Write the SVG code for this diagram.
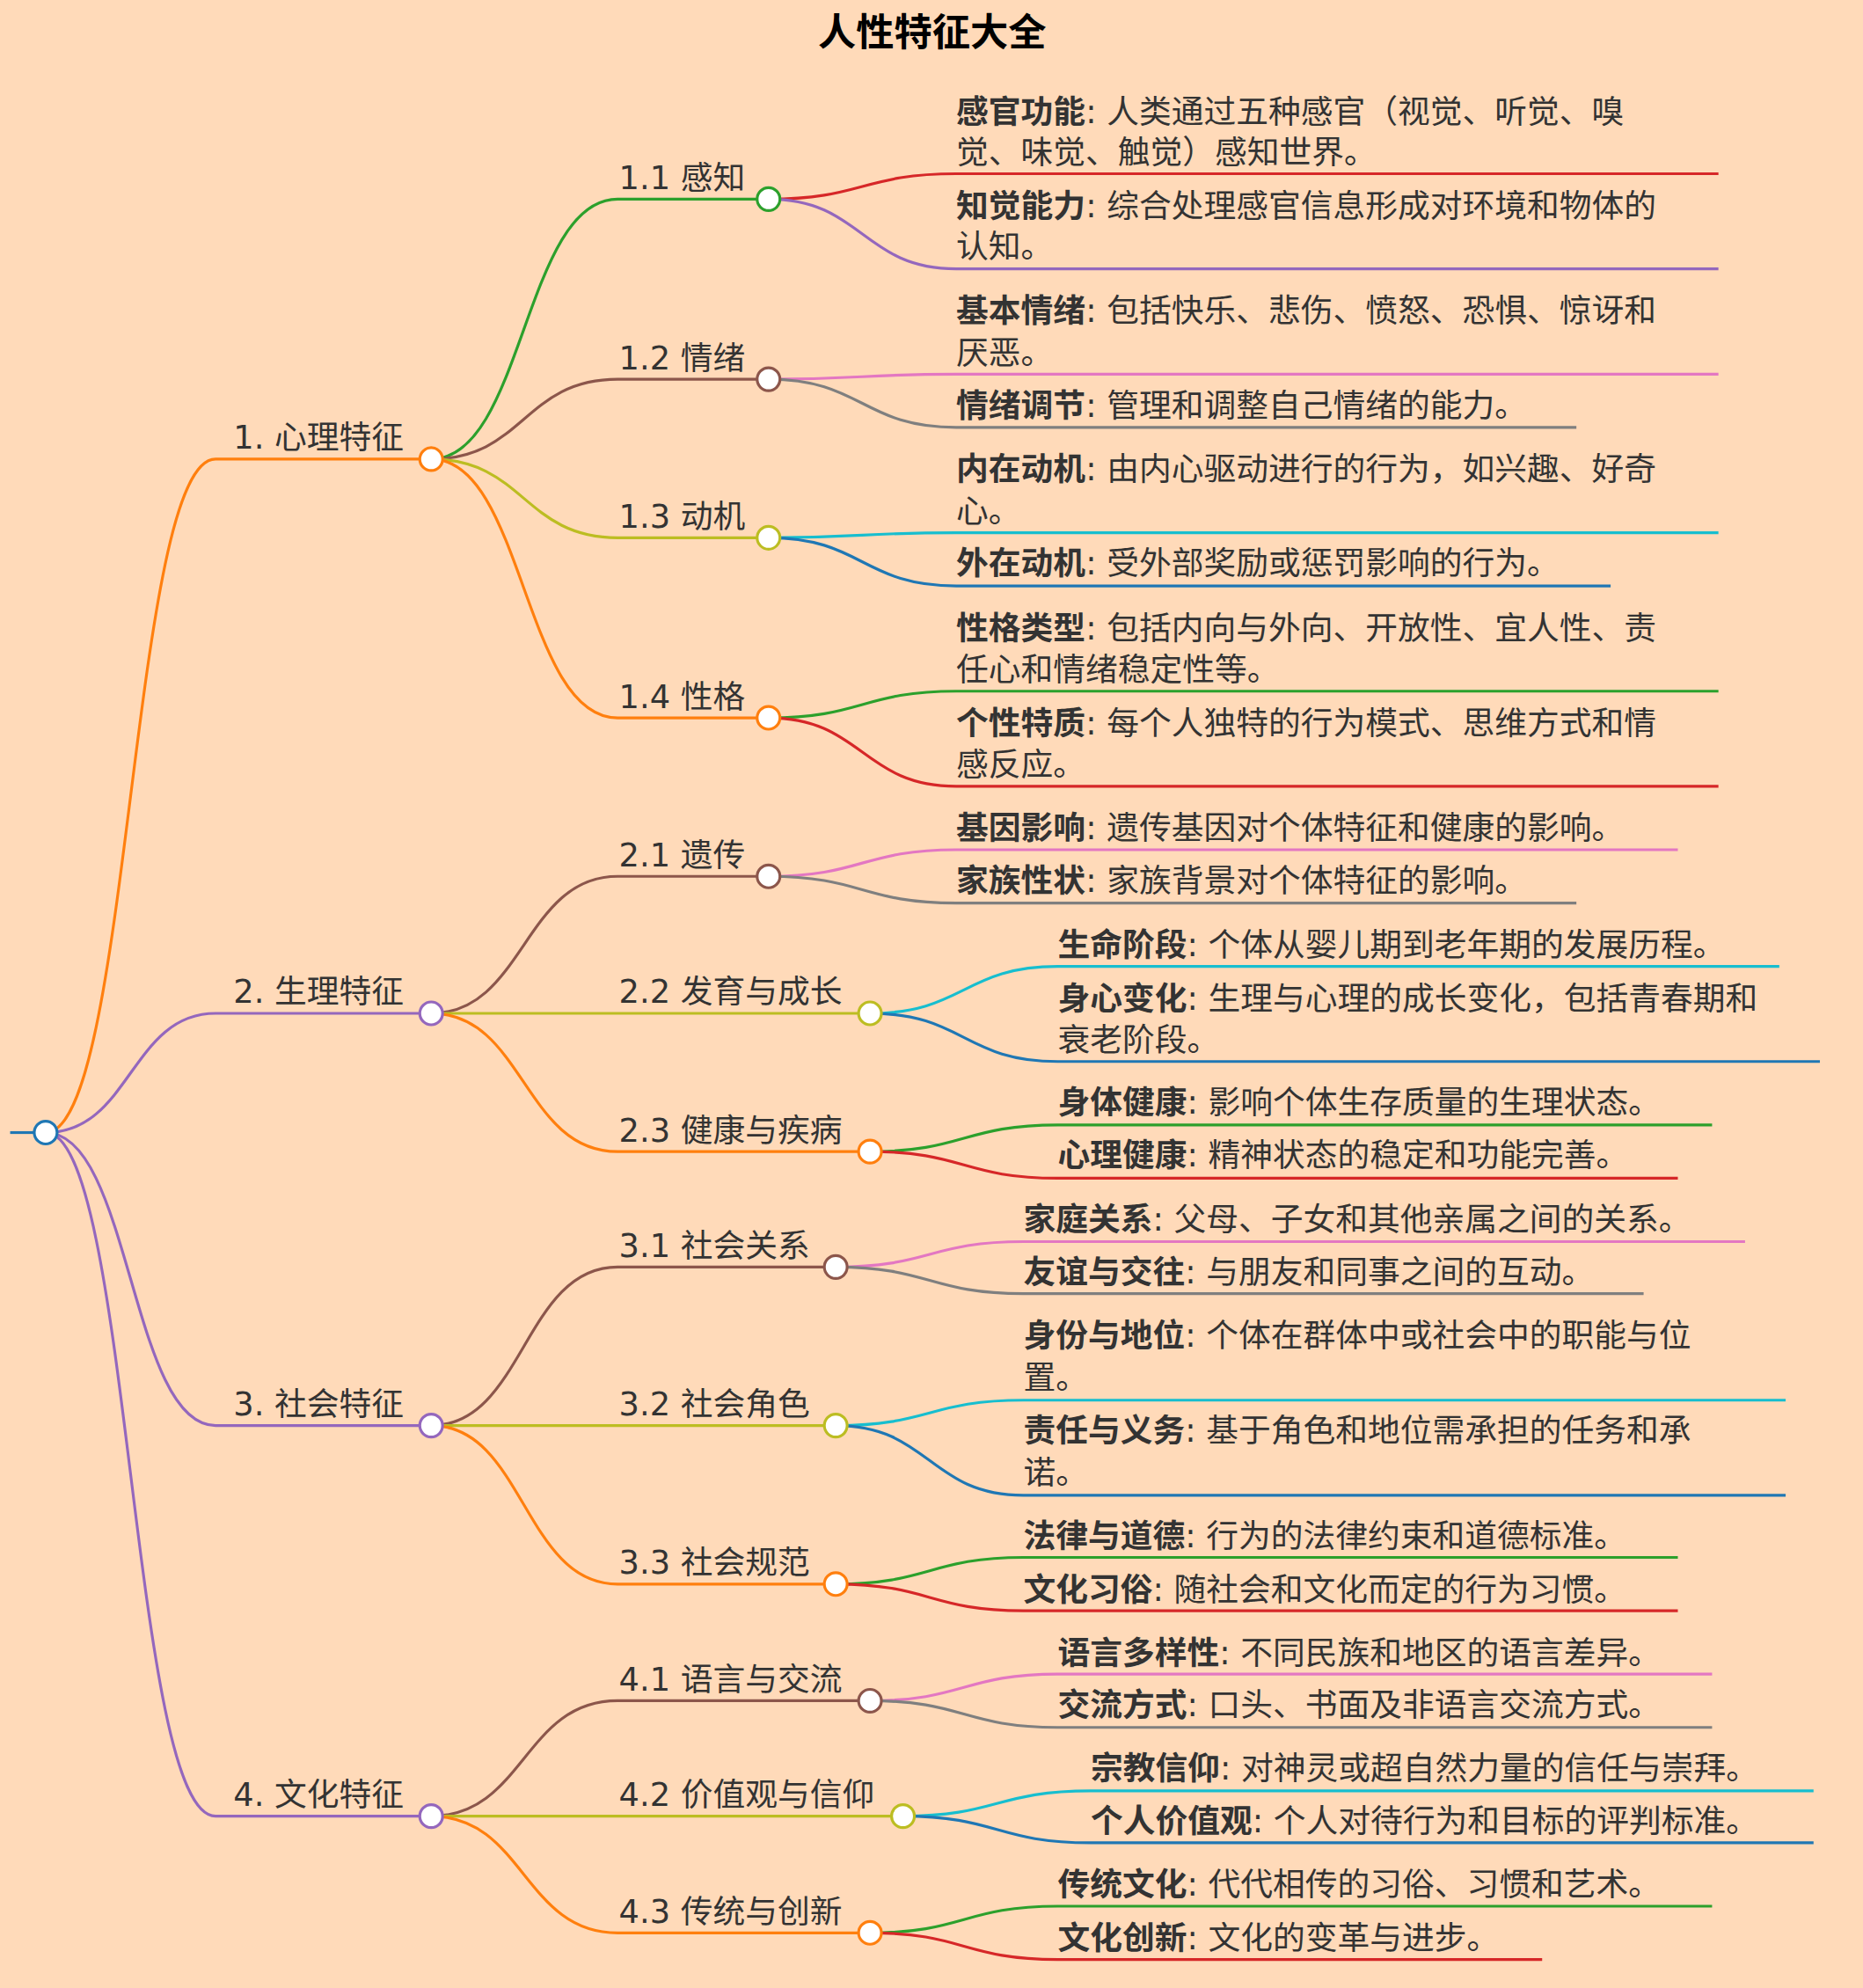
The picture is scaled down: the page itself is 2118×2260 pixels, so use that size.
<svg xmlns="http://www.w3.org/2000/svg" width="2118" height="2260" viewBox="0 0 2118 2260">
<style>
text{font-family:"DejaVu Sans","Noto Sans CJK SC",sans-serif;font-size:25.5px;fill:#333}
.t{font-weight:bold;font-size:30px;fill:#000}
.b{font-weight:bold}
path{fill:none;stroke-width:2.2}
circle{fill:#fff;stroke-width:2.2}
.c0{stroke:#1f77b4}.c1{stroke:#ff7f0e}.c2{stroke:#2ca02c}.c3{stroke:#d62728}.c4{stroke:#9467bd}.c5{stroke:#8c564b}.c6{stroke:#e377c2}.c7{stroke:#7f7f7f}.c8{stroke:#bcbd22}.c9{stroke:#17becf}
</style>
<rect width="2118" height="2260" fill="#FFDAB9"/>
<g transform="scale(1.4418)">
<text class="t" x="735" y="36" text-anchor="middle">人性特征大全</text>
<g id="connectors">
<path class="c0" d="M8 893H27"/>
<path class="c1" d="M36 893C103 893 103 362 170 362H340"/>
<path class="c4" d="M36 893C103 893 103 799 170 799H340"/>
<path class="c4" d="M36 893C103 893 103 1124 170 1124H340"/>
<path class="c4" d="M36 893C103 893 103 1432 170 1432H340"/>
<path class="c2" d="M340 362C413 362 413 157 487 157H606"/>
<path class="c5" d="M340 362C413 362 413 299 487 299H606"/>
<path class="c8" d="M340 362C413 362 413 424 487 424H606"/>
<path class="c1" d="M340 362C413 362 413 566 487 566H606"/>
<path class="c5" d="M340 799C413 799 413 691 487 691H606"/>
<path class="c8" d="M340 799C413 799 413 799 487 799H686"/>
<path class="c1" d="M340 799C413 799 413 908 487 908H686"/>
<path class="c5" d="M340 1124C413 1124 413 999 487 999H659"/>
<path class="c8" d="M340 1124C413 1124 413 1124 487 1124H659"/>
<path class="c1" d="M340 1124C413 1124 413 1249 487 1249H659"/>
<path class="c5" d="M340 1432C413 1432 413 1341 487 1341H686"/>
<path class="c8" d="M340 1432C413 1432 413 1432 487 1432H712"/>
<path class="c1" d="M340 1432C413 1432 413 1524 487 1524H686"/>
<path class="c3" d="M606 157C680 157 680 137 754 137H1355"/>
<path class="c4" d="M606 157C680 157 680 212 754 212H1355"/>
<path class="c6" d="M606 299C680 299 680 295 754 295H1355"/>
<path class="c7" d="M606 299C680 299 680 337 754 337H1243"/>
<path class="c9" d="M606 424C680 424 680 420 754 420H1355"/>
<path class="c0" d="M606 424C680 424 680 462 754 462H1270"/>
<path class="c2" d="M606 566C680 566 680 545 754 545H1355"/>
<path class="c3" d="M606 566C680 566 680 620 754 620H1355"/>
<path class="c6" d="M606 691C680 691 680 670 754 670H1323"/>
<path class="c7" d="M606 691C680 691 680 712 754 712H1243"/>
<path class="c9" d="M686 799C760 799 760 762 834 762H1403"/>
<path class="c0" d="M686 799C760 799 760 837 834 837H1435"/>
<path class="c2" d="M686 908C760 908 760 887 834 887H1350"/>
<path class="c3" d="M686 908C760 908 760 929 834 929H1323"/>
<path class="c6" d="M659 999C733 999 733 979 807 979H1376"/>
<path class="c7" d="M659 999C733 999 733 1020 807 1020H1296"/>
<path class="c9" d="M659 1124C733 1124 733 1104 807 1104H1408"/>
<path class="c0" d="M659 1124C733 1124 733 1179 807 1179H1408"/>
<path class="c2" d="M659 1249C733 1249 733 1228 807 1228H1323"/>
<path class="c3" d="M659 1249C733 1249 733 1270 807 1270H1323"/>
<path class="c6" d="M686 1341C760 1341 760 1320 834 1320H1350"/>
<path class="c7" d="M686 1341C760 1341 760 1362 834 1362H1350"/>
<path class="c9" d="M712 1432C786 1432 786 1412 860 1412H1430"/>
<path class="c0" d="M712 1432C786 1432 786 1453 860 1453H1430"/>
<path class="c2" d="M686 1524C760 1524 760 1503 834 1503H1350"/>
<path class="c3" d="M686 1524C760 1524 760 1545 834 1545H1216"/>
</g>
<g id="root"><circle class="c0" cx="36" cy="893" r="9"/></g>
<g id="n1"><text x="184" y="354">1. 心理特征</text><circle class="c1" cx="340" cy="362" r="9"/></g>
<g id="n2"><text x="184" y="791">2. 生理特征</text><circle class="c4" cx="340" cy="799" r="9"/></g>
<g id="n3"><text x="184" y="1116">3. 社会特征</text><circle class="c4" cx="340" cy="1124" r="9"/></g>
<g id="n4"><text x="184" y="1424">4. 文化特征</text><circle class="c4" cx="340" cy="1432" r="9"/></g>
<g id="n11"><text x="488" y="149">1.1 感知</text><circle class="c2" cx="606" cy="157" r="9"/></g>
<g id="n12"><text x="488" y="291">1.2 情绪</text><circle class="c5" cx="606" cy="299" r="9"/></g>
<g id="n13"><text x="488" y="416">1.3 动机</text><circle class="c8" cx="606" cy="424" r="9"/></g>
<g id="n14"><text x="488" y="558">1.4 性格</text><circle class="c1" cx="606" cy="566" r="9"/></g>
<g id="n21"><text x="488" y="683">2.1 遗传</text><circle class="c5" cx="606" cy="691" r="9"/></g>
<g id="n22"><text x="488" y="791">2.2 发育与成长</text><circle class="c8" cx="686" cy="799" r="9"/></g>
<g id="n23"><text x="488" y="900">2.3 健康与疾病</text><circle class="c1" cx="686" cy="908" r="9"/></g>
<g id="n31"><text x="488" y="991">3.1 社会关系</text><circle class="c5" cx="659" cy="999" r="9"/></g>
<g id="n32"><text x="488" y="1116">3.2 社会角色</text><circle class="c8" cx="659" cy="1124" r="9"/></g>
<g id="n33"><text x="488" y="1241">3.3 社会规范</text><circle class="c1" cx="659" cy="1249" r="9"/></g>
<g id="n41"><text x="488" y="1333">4.1 语言与交流</text><circle class="c5" cx="686" cy="1341" r="9"/></g>
<g id="n42"><text x="488" y="1424">4.2 价值观与信仰</text><circle class="c8" cx="712" cy="1432" r="9"/></g>
<g id="n43"><text x="488" y="1516">4.3 传统与创新</text><circle class="c1" cx="686" cy="1524" r="9"/></g>
<g id="l111"><text x="754" y="97"><tspan class="b">感官功能</tspan>: 人类通过五种感官（视觉、听觉、嗅</text><text x="754" y="129">觉、味觉、触觉）感知世界。</text></g>
<g id="l112"><text x="754" y="171"><tspan class="b">知觉能力</tspan>: 综合处理感官信息形成对环境和物体的</text><text x="754" y="203">认知。</text></g>
<g id="l121"><text x="754" y="254"><tspan class="b">基本情绪</tspan>: 包括快乐、悲伤、愤怒、恐惧、惊讶和</text><text x="754" y="287">厌恶。</text></g>
<g id="l122"><text x="754" y="329"><tspan class="b">情绪调节</tspan>: 管理和调整自己情绪的能力。</text></g>
<g id="l131"><text x="754" y="379"><tspan class="b">内在动机</tspan>: 由内心驱动进行的行为，如兴趣、好奇</text><text x="754" y="412">心。</text></g>
<g id="l132"><text x="754" y="453"><tspan class="b">外在动机</tspan>: 受外部奖励或惩罚影响的行为。</text></g>
<g id="l141"><text x="754" y="504"><tspan class="b">性格类型</tspan>: 包括内向与外向、开放性、宜人性、责</text><text x="754" y="537">任心和情绪稳定性等。</text></g>
<g id="l142"><text x="754" y="579"><tspan class="b">个性特质</tspan>: 每个人独特的行为模式、思维方式和情</text><text x="754" y="612">感反应。</text></g>
<g id="l211"><text x="754" y="662"><tspan class="b">基因影响</tspan>: 遗传基因对个体特征和健康的影响。</text></g>
<g id="l212"><text x="754" y="703"><tspan class="b">家族性状</tspan>: 家族背景对个体特征的影响。</text></g>
<g id="l221"><text x="834" y="754"><tspan class="b">生命阶段</tspan>: 个体从婴儿期到老年期的发展历程。</text></g>
<g id="l222"><text x="834" y="796"><tspan class="b">身心变化</tspan>: 生理与心理的成长变化，包括青春期和</text><text x="834" y="829">衰老阶段。</text></g>
<g id="l231"><text x="834" y="878"><tspan class="b">身体健康</tspan>: 影响个体生存质量的生理状态。</text></g>
<g id="l232"><text x="834" y="920"><tspan class="b">心理健康</tspan>: 精神状态的稳定和功能完善。</text></g>
<g id="l311"><text x="807" y="970"><tspan class="b">家庭关系</tspan>: 父母、子女和其他亲属之间的关系。</text></g>
<g id="l312"><text x="807" y="1012"><tspan class="b">友谊与交往</tspan>: 与朋友和同事之间的互动。</text></g>
<g id="l321"><text x="807" y="1062"><tspan class="b">身份与地位</tspan>: 个体在群体中或社会中的职能与位</text><text x="807" y="1095">置。</text></g>
<g id="l322"><text x="807" y="1137"><tspan class="b">责任与义务</tspan>: 基于角色和地位需承担的任务和承</text><text x="807" y="1170">诺。</text></g>
<g id="l331"><text x="807" y="1220"><tspan class="b">法律与道德</tspan>: 行为的法律约束和道德标准。</text></g>
<g id="l332"><text x="807" y="1262"><tspan class="b">文化习俗</tspan>: 随社会和文化而定的行为习惯。</text></g>
<g id="l411"><text x="834" y="1312"><tspan class="b">语言多样性</tspan>: 不同民族和地区的语言差异。</text></g>
<g id="l412"><text x="834" y="1353"><tspan class="b">交流方式</tspan>: 口头、书面及非语言交流方式。</text></g>
<g id="l421"><text x="860" y="1403"><tspan class="b">宗教信仰</tspan>: 对神灵或超自然力量的信任与崇拜。</text></g>
<g id="l422"><text x="860" y="1445"><tspan class="b">个人价值观</tspan>: 个人对待行为和目标的评判标准。</text></g>
<g id="l431"><text x="834" y="1495"><tspan class="b">传统文化</tspan>: 代代相传的习俗、习惯和艺术。</text></g>
<g id="l432"><text x="834" y="1537"><tspan class="b">文化创新</tspan>: 文化的变革与进步。</text></g>
</g>
</svg>
